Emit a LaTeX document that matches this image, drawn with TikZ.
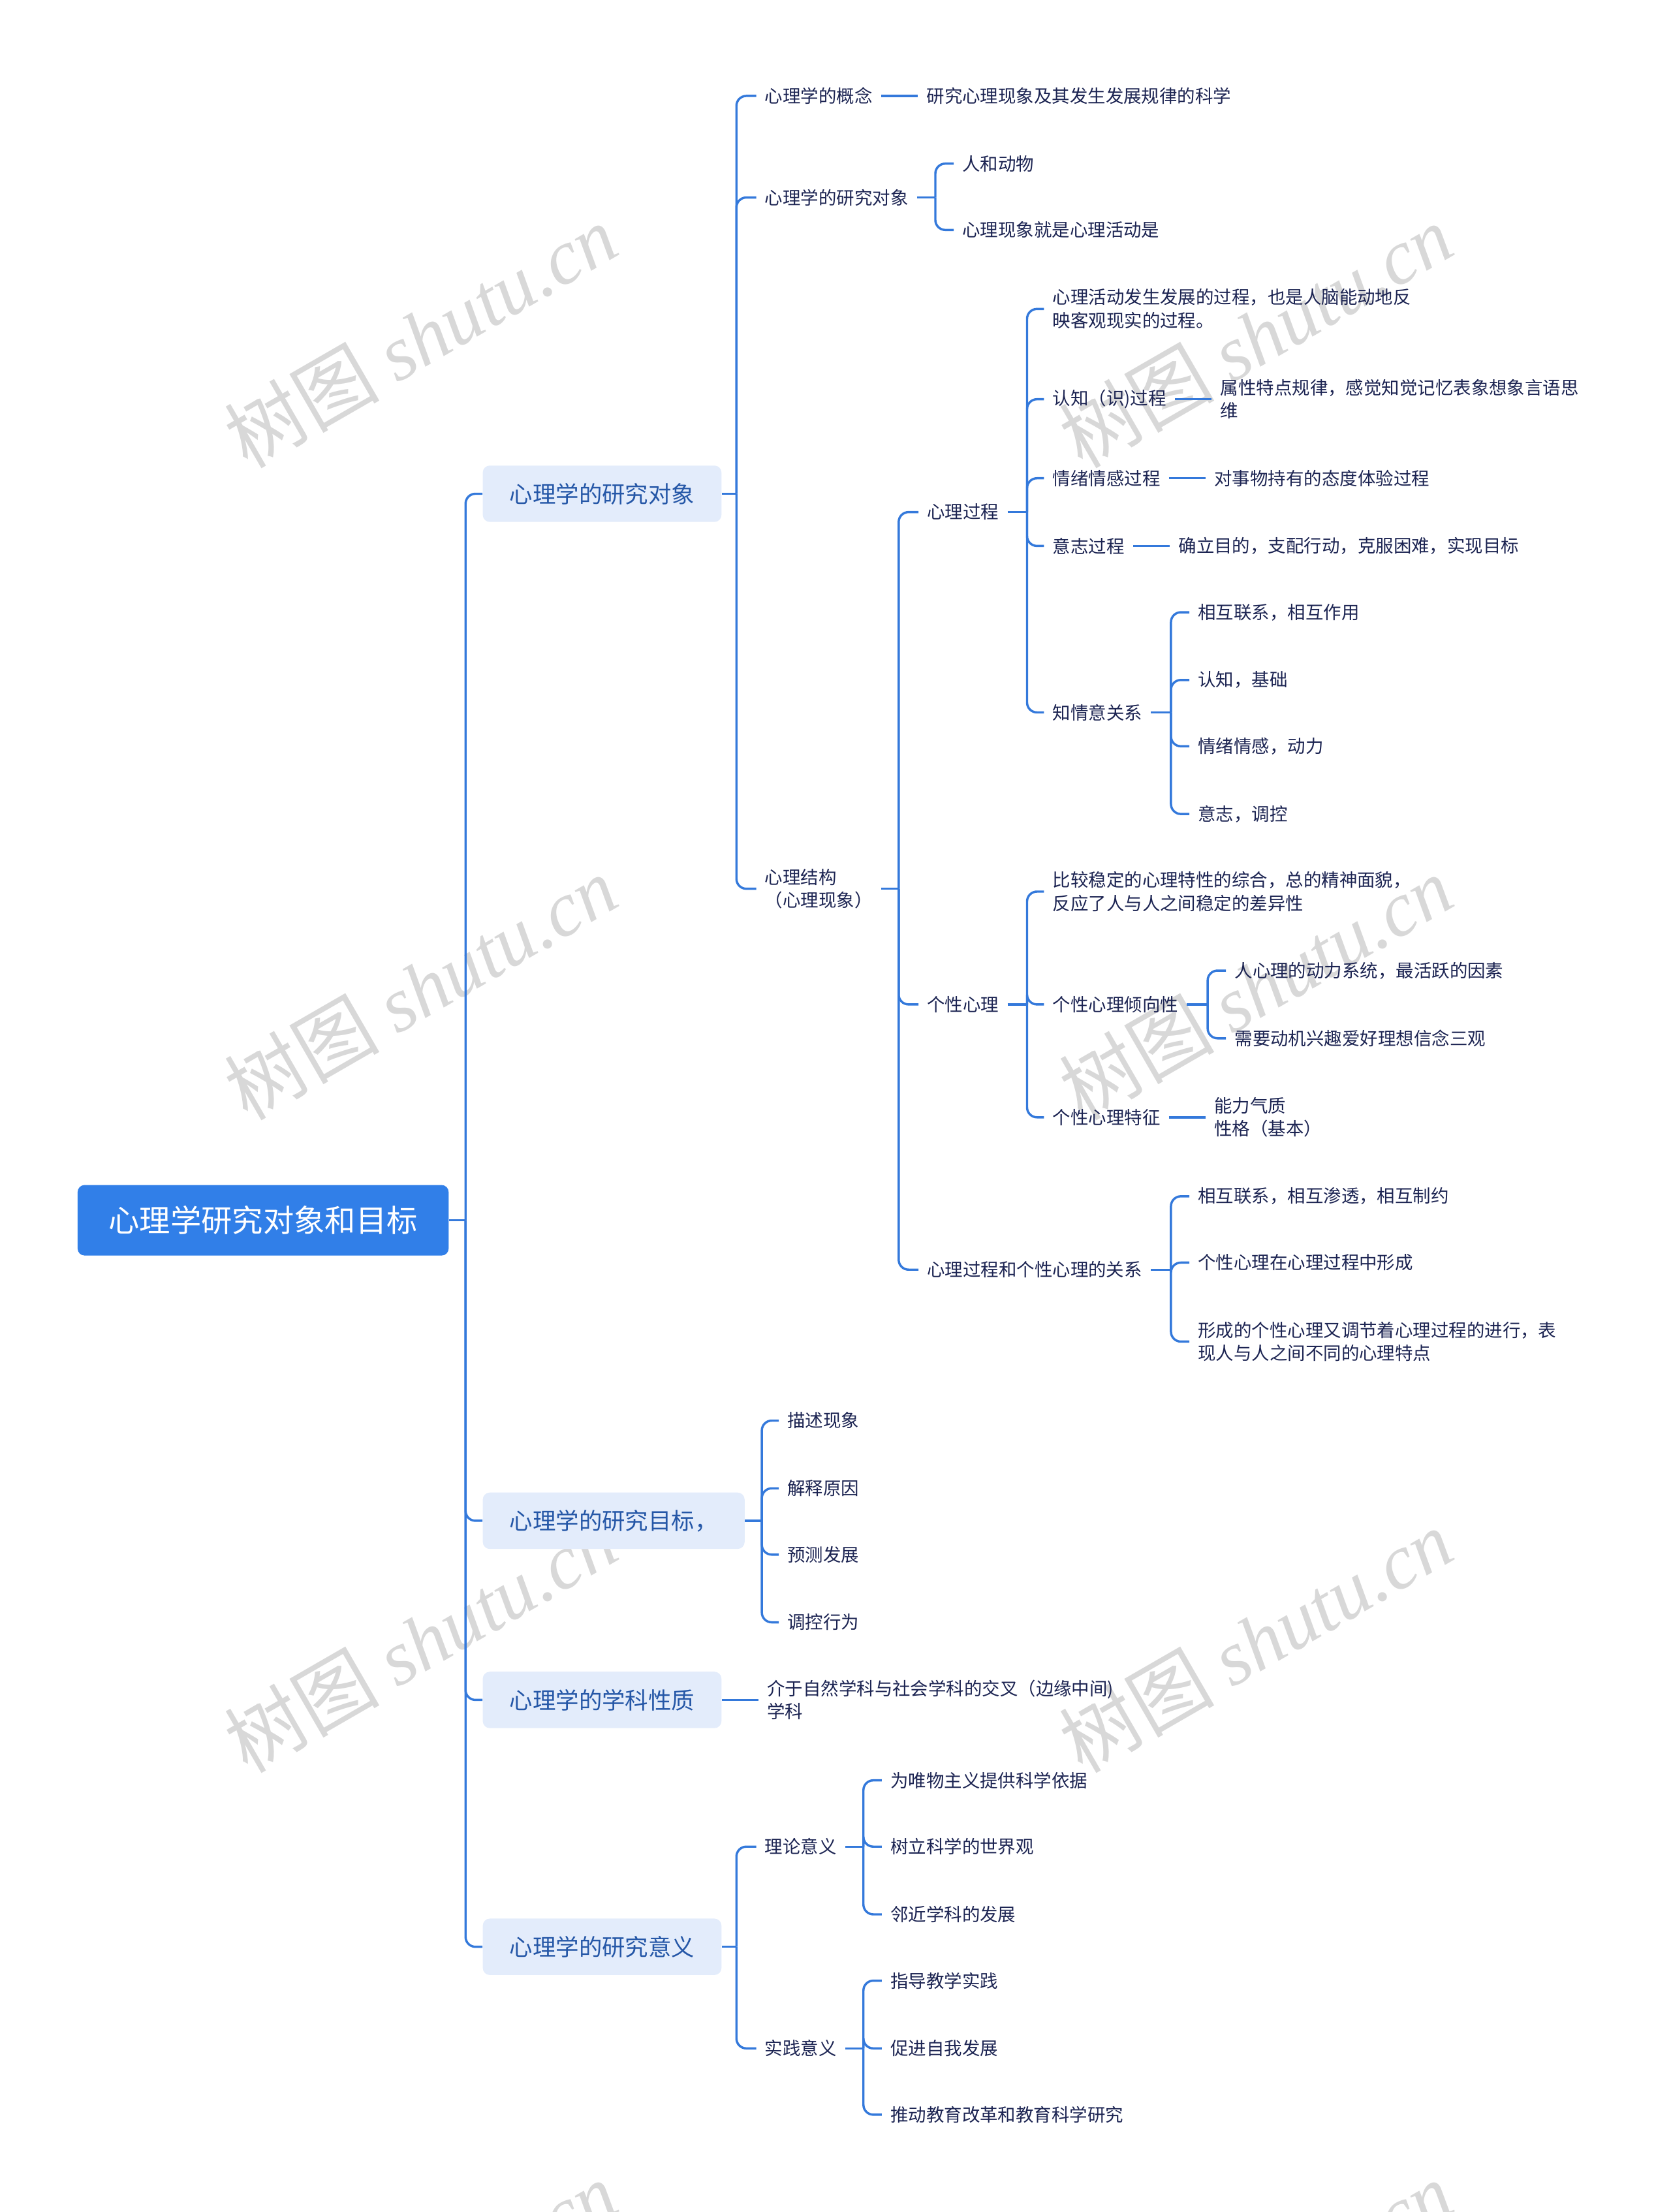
\documentclass[tikz,border=0pt]{standalone}
\usepackage{fontspec}
\setmainfont{Noto Sans CJK SC}
\newfontfamily\wmlatin{Liberation Serif}
\usetikzlibrary{positioning}

\definecolor{linec}{RGB}{52,121,219}
\definecolor{rootc}{RGB}{49,127,232}
\definecolor{boxc}{RGB}{227,236,251}
\definecolor{boxtxt}{RGB}{37,87,167}
\definecolor{leaftxt}{RGB}{28,36,82}
\definecolor{wmc}{RGB}{216,216,216}

\tikzset{
  conn/.style={draw=linec, line width=1.6pt, rounded corners=7pt},
  rootbox/.style={fill=rootc, rounded corners=5pt, text=white, font=\fontsize{21.9}{26}\selectfont,
    minimum width=263pt, minimum height=50pt, inner sep=0pt},
  topicbox/.style={fill=boxc, rounded corners=5pt, text=boxtxt, font=\fontsize{16.4}{20}\selectfont,
    minimum height=40pt, inner xsep=19pt, inner ysep=0pt, anchor=west},
  leaf/.style={text=leaftxt, font=\fontsize{12.7}{16.5}\selectfont, inner xsep=6pt, inner ysep=2pt,
    align=left, anchor=west},
  wmark/.style={text=wmc, rotate=30, font=\fontsize{55}{55}\selectfont}
}

\begin{document}
\begin{tikzpicture}[x=1pt, y=-1pt]
\useasboundingbox (0,0) rectangle (1184,1568);
% watermarks
\begin{scope}
  \clip (0,0) rectangle (1184,1568);
  \foreach \wx in {298,890}
    \foreach \wy in {238,700,1163,1625}
      \node[wmark] at (\wx,\wy) {树图 {\wmlatin\itshape shutu.cn}};
\end{scope}

% root and main topics
\node[rootbox] (root) at (186.5,865) {心理学研究对象和目标};
\coordinate (k0) at (330,865);
\draw[conn] (root.east) -- (k0);
\node[topicbox] (obj) at (342,350) {心理学的研究对象};
\node[topicbox] (goal) at (342,1078) {心理学的研究目标，};
\node[topicbox] (nature) at (342,1205) {心理学的学科性质};
\node[topicbox] (sig) at (342,1380) {心理学的研究意义};
\foreach \n in {obj,goal,nature,sig} \draw[conn] (k0) |- (\n.west);

% research object
\coordinate (k1) at (522,350);
\draw[conn] (obj.east) -- (k1);
\node[leaf] (concept) at (536,68) {心理学的概念};
\node[leaf] (target) at (536,140) {心理学的研究对象};
\node[leaf] (struct) at (536,630) {心理结构\\（心理现象）};
\foreach \n in {concept,target,struct} \draw[conn] (k1) |- (\n.west);

\node[leaf, right=26pt of concept] (conceptdef) {研究心理现象及其发生发展规律的科学};
\draw[conn] (concept) -- (conceptdef);

\coordinate (k2) at (663,140);
\draw[conn] (target.east) -- (k2);
\node[leaf] (t1) at (676,116) {人和动物};
\node[leaf] (t2) at (676,163) {心理现象就是心理活动是};
\foreach \n in {t1,t2} \draw[conn] (k2) |- (\n.west);

\coordinate (k3) at (637,630);
\draw[conn] (struct.east) -- (k3);
\node[leaf] (proc) at (651,363) {心理过程};
\node[leaf] (pers) at (651,712) {个性心理};
\node[leaf] (rel) at (651,900) {心理过程和个性心理的关系};
\foreach \n in {proc,pers,rel} \draw[conn] (k3) |- (\n.west);

% mental process
\coordinate (k4) at (728,363);
\draw[conn] (proc.east) -- (k4);
\node[leaf] (p1) at (740,219) {心理活动发生发展的过程，也是人脑能动地反\\映客观现实的过程。};
\node[leaf] (p2) at (740,283) {认知（识)过程};
\node[leaf] (p3) at (740,339) {情绪情感过程};
\node[leaf] (p4) at (740,387) {意志过程};
\node[leaf] (p5) at (740,505) {知情意关系};
\foreach \n in {p1,p2,p3,p4,p5} \draw[conn] (k4) |- (\n.west);

\node[leaf, right=26pt of p2] (p2d) {属性特点规律，感觉知觉记忆表象想象言语思\\维};
\node[leaf, right=26pt of p3] (p3d) {对事物持有的态度体验过程};
\node[leaf, right=26pt of p4] (p4d) {确立目的，支配行动，克服困难，实现目标};
\draw[conn] (p2) -- (p2d);
\draw[conn] (p3) -- (p3d);
\draw[conn] (p4) -- (p4d);

\coordinate (k5) at (830,505);
\draw[conn] (p5.east) -- (k5);
\node[leaf] (r1) at (843,434) {相互联系，相互作用};
\node[leaf] (r2) at (843,482) {认知，基础};
\node[leaf] (r3) at (843,529) {情绪情感，动力};
\node[leaf] (r4) at (843,577) {意志，调控};
\foreach \n in {r1,r2,r3,r4} \draw[conn] (k5) |- (\n.west);

% personality
\coordinate (k6) at (728,712);
\draw[conn] (pers.east) -- (k6);
\node[leaf] (q1) at (740,632) {比较稳定的心理特性的综合，总的精神面貌，\\反应了人与人之间稳定的差异性};
\node[leaf] (q2) at (740,712) {个性心理倾向性};
\node[leaf] (q3) at (740,792) {个性心理特征};
\foreach \n in {q1,q2,q3} \draw[conn] (k6) |- (\n.west);

\coordinate (k7) at (856,712);
\draw[conn] (q2.east) -- (k7);
\node[leaf] (q21) at (869,688) {人心理的动力系统，最活跃的因素};
\node[leaf] (q22) at (869,736) {需要动机兴趣爱好理想信念三观};
\foreach \n in {q21,q22} \draw[conn] (k7) |- (\n.west);

\node[leaf, right=26pt of q3] (q3d) {能力气质\\性格（基本）};
\draw[conn] (q3) -- (q3d);

% relation
\coordinate (k8) at (830,900);
\draw[conn] (rel.east) -- (k8);
\node[leaf] (s1) at (843,848) {相互联系，相互渗透，相互制约};
\node[leaf] (s2) at (843,895) {个性心理在心理过程中形成};
\node[leaf] (s3) at (843,951) {形成的个性心理又调节着心理过程的进行，表\\现人与人之间不同的心理特点};
\foreach \n in {s1,s2,s3} \draw[conn] (k8) |- (\n.west);

% research goals
\coordinate (k9) at (540,1078);
\draw[conn] (goal.east) -- (k9);
\node[leaf] (g1) at (552,1007) {描述现象};
\node[leaf] (g2) at (552,1055) {解释原因};
\node[leaf] (g3) at (552,1102) {预测发展};
\node[leaf] (g4) at (552,1150) {调控行为};
\foreach \n in {g1,g2,g3,g4} \draw[conn] (k9) |- (\n.west);

% nature
\node[leaf, right=26pt of nature] (natured) {介于自然学科与社会学科的交叉（边缘中间)\\学科};
\draw[conn] (nature) -- (natured);

% significance
\coordinate (k10) at (522,1380);
\draw[conn] (sig.east) -- (k10);
\node[leaf] (theory) at (536,1309) {理论意义};
\node[leaf] (practice) at (536,1452) {实践意义};
\foreach \n in {theory,practice} \draw[conn] (k10) |- (\n.west);

\coordinate (k11) at (612,1309);
\draw[conn] (theory.east) -- (k11);
\node[leaf] (h1) at (625,1262) {为唯物主义提供科学依据};
\node[leaf] (h2) at (625,1309) {树立科学的世界观};
\node[leaf] (h3) at (625,1357) {邻近学科的发展};
\foreach \n in {h1,h2,h3} \draw[conn] (k11) |- (\n.west);

\coordinate (k12) at (612,1452);
\draw[conn] (practice.east) -- (k12);
\node[leaf] (m1) at (625,1404) {指导教学实践};
\node[leaf] (m2) at (625,1452) {促进自我发展};
\node[leaf] (m3) at (625,1499) {推动教育改革和教育科学研究};
\foreach \n in {m1,m2,m3} \draw[conn] (k12) |- (\n.west);
\end{tikzpicture}
\end{document}
